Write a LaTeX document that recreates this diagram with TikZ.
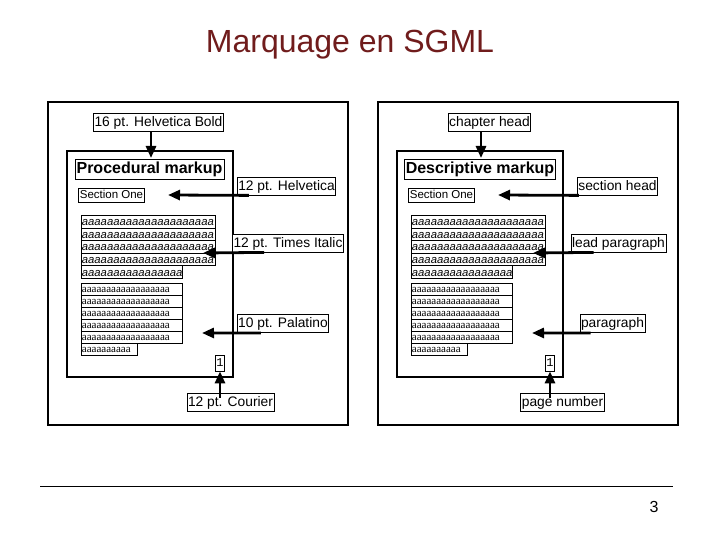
\documentclass[tikz,border=0pt]{standalone}
\usepackage{fontspec}
\setmainfont{Liberation Sans}
\newfontfamily\serifrm{Liberation Serif}
\newfontfamily\monorm{Liberation Mono}
\usetikzlibrary{arrows.meta}
\definecolor{titlered}{RGB}{112,28,28}

\begin{document}
\begin{tikzpicture}[x=1pt, y=-1pt,
    frame/.style={draw, line width=2.7pt},
    lbl/.style={draw, fill=white, line width=0.8pt, inner sep=1pt, text height=12.3pt, text depth=3.7pt, font=\fontsize{13.8}{16}\selectfont},
    headbox/.style={draw, fill=white, line width=0.8pt, inner sep=1.5pt, text height=13pt, text depth=4.5pt, font=\fontsize{16}{18}\selectfont\bfseries},
    secbox/.style={draw, line width=0.8pt, inner sep=1pt, text height=9.5pt, text depth=2.5pt, font=\fontsize{11.5}{13}\selectfont},
    numbox/.style={draw, fill=white, line width=0.8pt, inner sep=0.6pt, minimum height=16pt, font=\monorm\fontsize{12}{14}\selectfont},
    irow/.style={draw, line width=0.8pt, anchor=north west, inner sep=0.5pt, minimum height=12.6pt, text height=8pt, text depth=0pt, font=\fontsize{11.3}{12}\selectfont\itshape},
    prow/.style={draw, line width=0.8pt, anchor=north west, inner sep=0.5pt, minimum height=12pt, text height=6pt, text depth=0pt, font=\serifrm\fontsize{11}{12}\selectfont},
    arr/.style={line width=2.8pt, -{Triangle[length=12pt,width=10pt]}}]
  \useasboundingbox (0,0) rectangle (720,540);

  \node[text=titlered, font=\fontsize{32}{36}\selectfont] (title) at (350,45) {Marquage en SGML};

  % the two mock pages
  \foreach \dx/\s in {0/L,330/R} {
    \draw[frame] (48+\dx,102) rectangle (348+\dx,425);
    \draw[frame] (67+\dx,151) rectangle (233+\dx,377);
    \foreach \i in {0,...,3}
      \node[irow, text width=133pt] (it\s\i) at (81+\dx,215+12.6*\i) {aaaaaaaaaaaaaaaaaaaaa};
    \node[irow, text width=100pt] (it\s4) at (81+\dx,265.4) {aaaaaaaaaaaaaaaa};
    \foreach \i in {0,...,4}
      \node[prow, text width=100pt] (pl\s\i) at (81+\dx,283+12*\i) {aaaaaaaaaaaaaaaaaa};
    \node[prow, text width=55pt] (pl\s5) at (81+\dx,343) {aaaaaaaaaa};
  }

  % procedural side
  \node[lbl] (hbold) at (158.5,122) {16 pt. Helvetica Bold};
  \node[headbox] (procL) at (149.5,169.5) {Procedural markup};
  \node[secbox] (secL) at (111.5,195) {Section One};
  \node[lbl] (helv) at (286.5,186) {12 pt. Helvetica};
  \node[lbl] (times) at (288,243) {12 pt. Times Italic};
  \node[lbl] (pal) at (283,323.5) {10 pt. Palatino};
  \node[numbox] (numL) at (220,363) {1};
  \node[lbl] (courier) at (230.5,402) {12 pt. Courier};

  % descriptive side
  \node[lbl] (chap) at (489.5,122) {chapter head};
  \node[headbox] (descR) at (480,169.5) {Descriptive markup};
  \node[secbox] (secR) at (441.5,195) {Section One};
  \node[lbl] (sechead) at (617.5,186) {section head};
  \node[lbl] (leadpar) at (618.5,243) {lead paragraph};
  \node[lbl] (para) at (612.5,323.5) {paragraph};
  \node[numbox] (numR) at (550,363) {1};
  \node[lbl] (pagenum) at (562.5,402) {page number};

  % arrow ends
  \coordinate (tipA) at (151,158);
  \coordinate (tipB) at (168,195);
  \coordinate (tipC) at (203,253);
  \coordinate (tipD) at (202,333);
  \coordinate (tipE) at (481,158);
  \coordinate (tipF) at (498,195);
  \coordinate (tipG) at (533,253);
  \coordinate (tipH) at (532,333);

  \draw[arr] (tipA |- hbold.south) -- (tipA);
  \draw[arr] ([xshift=12]helv.south west) -- (tipB);
  \draw[arr] ([xshift=32]times.south west) -- (tipC);
  \draw[arr] ([xshift=24]pal.south west) -- (tipD);
  \draw[arr] ([yshift=-5]courier.north -| numL.south) -- (numL.south);

  \draw[arr] (tipE |- chap.south) -- (tipE);
  \draw[arr] ([xshift=2]sechead.south west) -- (tipF);
  \draw[arr] ([xshift=23]leadpar.south west) -- (tipG);
  \draw[arr] ([xshift=11]para.south west) -- (tipH);
  \draw[arr] ([yshift=-5]pagenum.north -| numR.south) -- (numR.south);

  % footer
  \coordinate (footL) at (40,486);
  \coordinate (footR) at (673,486);
  \draw[line width=1pt] (footL) -- (footR);
  \node[font=\fontsize{16}{18}\selectfont] (pgno) at (654,507) {3};
\end{tikzpicture}
\end{document}
